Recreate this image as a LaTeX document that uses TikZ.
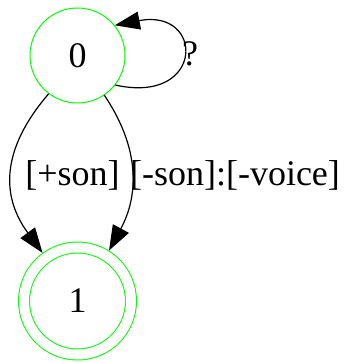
\documentclass[tikz,border=0pt]{standalone}
\usepackage{fontspec}
\setmainfont{Liberation Serif}
\usetikzlibrary{arrows.meta}
\definecolor{stategreen}{RGB}{0,255,0}
\tikzset{
  every node/.style={font=\fontsize{36}{42}\selectfont},
  state/.style={circle, draw=stategreen, line width=1pt, inner sep=0pt, minimum size=95pt},
  accept/.style={circle, draw=stategreen, line width=1pt, double=white, double distance=10pt,
    inner sep=0pt, minimum size=107pt, outer sep=6pt},
  edge/.style={draw=black, line width=1.2pt, -{Triangle[length=25pt,width=18pt]}},
  lbl/.style={anchor=base, inner sep=0pt}
}
\begin{document}
\begin{tikzpicture}[x=1pt,y=-1pt]
\useasboundingbox (0,0) rectangle (345,363);
\node[state] (n0) at (77.5,55.5) {0};
\node[accept] (n1) at (77.5,301) {1};
\draw[edge] (n0.-38) .. controls (205,105) and (205,8) .. (n0.39);
\draw[edge] (n0.233) .. controls (2,148) and (0,195) .. (n1.126.6);
\draw[edge] (n0.304.5) .. controls (140,148) and (139,195) .. (n1.58.3);
\node[lbl] (q) at (190,66) {?};
\node[lbl] (l1) at (72.5,185) {[+son]};
\node[lbl] (l2) at (235,185) {[-son]:[-voice]};
\end{tikzpicture}
\end{document}
